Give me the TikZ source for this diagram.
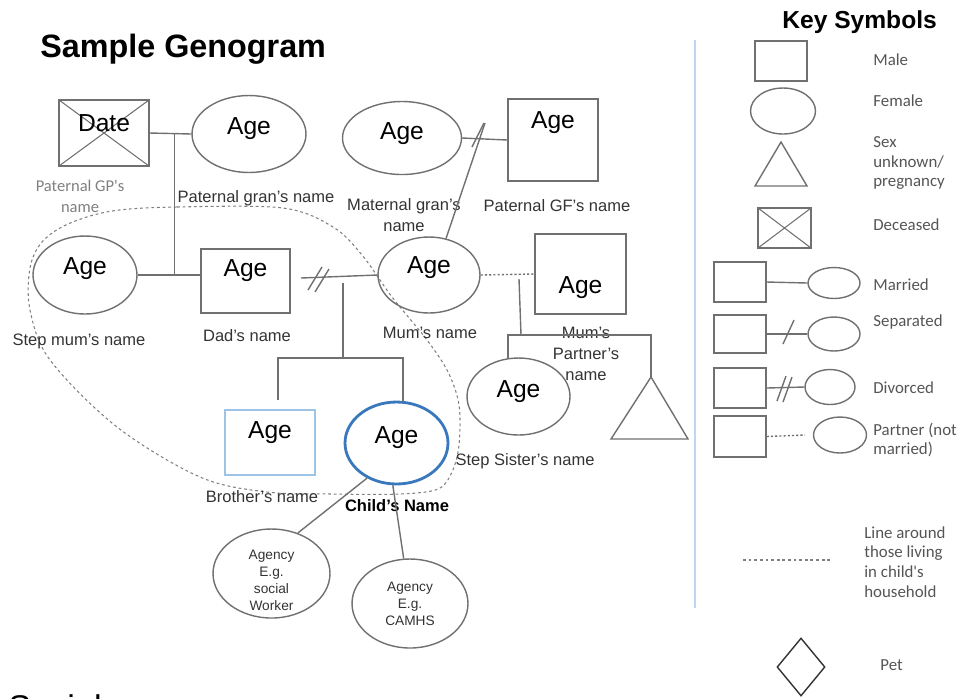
\documentclass[tikz,border=0pt]{standalone}
\usepackage{fontspec}
\setmainfont{Liberation Sans}
\newfontfamily\calfont{Carlito}
\usepackage{xcolor}
\usepackage{tikz}
\usetikzlibrary{shapes.geometric}
\usetikzlibrary{shapes}

\definecolor{linegray}{HTML}{707070}
\definecolor{txtgray}{HTML}{333333}
\definecolor{keygray}{HTML}{555555}
\definecolor{childblue}{HTML}{3A78BE}
\definecolor{brotherblue}{HTML}{9DC3E6}
\definecolor{dividerblue}{HTML}{BDD7EE}
\newcommand{\agefont}{\fontsize{14}{16}\selectfont}

\begin{document}
\begin{tikzpicture}[x=0.02cm, y=-0.02cm,
    person/.style={draw=linegray, line width=0.8pt, inner sep=0pt},
    male/.style={person, rectangle},
    female/.style={person, ellipse},
    age/.style={label={[font=\agefont, yshift=#1]center:Age}},
    age/.default=0pt,
    cross/.style={path picture={\draw[linegray, line width=0.6pt]
        (path picture bounding box.north west) -- (path picture bounding box.south east)
        (path picture bounding box.south west) -- (path picture bounding box.north east);}},
    agency/.style={font=\fontsize{7.8}{9.6}\selectfont, align=center, text=txtgray},
    rel/.style={draw=linegray, line width=0.8pt},
    partnerline/.style={draw=linegray, line width=0.8pt, dash pattern=on 1.2pt off 1.2pt},
    household/.style={draw=gray, line width=0.6pt, dash pattern=on 1.6pt off 1.6pt},
    nametext/.style={font=\fontsize{9.4}{11.8}\selectfont, text=txtgray, align=center, inner sep=0pt},
    keytext/.style={font=\calfont\fontsize{9.6}{11.3}\selectfont, text=keygray, anchor=west, align=left, inner sep=0pt}]
\useasboundingbox (0,0) rectangle (962,698);

% titles
\node[anchor=base west, inner sep=0pt, font=\bfseries\fontsize{18.4}{21}\selectfont] (title) at (40,57) {Sample Genogram};
\node[anchor=base west, inner sep=0pt, font=\bfseries\fontsize{14}{16}\selectfont] (keytitle) at (782,28) {Key Symbols};
\node[anchor=base west, inner sep=0pt, font=\fontsize{19.5}{22}\selectfont] (social) at (8,719) {Social};

% household
\draw[household] plot[smooth cycle, tension=0.55] coordinates {(112,211) (177,207) (283,208) (333,227)
    (362,255) (392,297) (427,340) (448,372) (459,405) (459,445) (452,472) (438,489) (400,494)
    (333,494) (267,492) (200,477) (117,427) (50,360) (30,310) (30,268) (42,242) (68,224)};

% grandparents
\node[male, cross, minimum width=18mm, minimum height=13.2mm,
    label={[font=\agefont, yshift=2mm]center:Date}] (pgf) at (104,133) {};
\node[female, minimum width=22.8mm, minimum height=15.4mm, age=1mm] (pgran) at (249,134) {};
\node[female, minimum width=23.8mm, minimum height=14.6mm, age=0.8mm] (mgran) at (402,138) {};
\node[male, minimum width=18mm, minimum height=16.4mm, age=3.4mm] (mgf) at (553,140) {};

% parents
\node[female, minimum width=20.8mm, minimum height=15.6mm, age=1.2mm] (stepmum) at (85,275) {};
\node[male, minimum width=17.8mm, minimum height=12.8mm, age=2mm] (dad) at (245.5,281) {};
\node[female, minimum width=20.4mm, minimum height=15.2mm, age=1.4mm] (mum) at (429,275) {};
\node[male, minimum width=18.2mm, minimum height=16mm, age=-2.8mm] (partner) at (580.5,274) {};

% children
\node[male, draw=brotherblue, line width=0.6pt, minimum width=18mm, minimum height=13mm, age=2mm] (bro) at (270,442.5) {};
\node[female, draw=childblue, line width=1.6pt, minimum width=20.6mm, minimum height=16.4mm, age=1mm] (child) at (396.5,443) {};
\node[female, minimum width=20.6mm, minimum height=15.4mm, age=0.9mm] (stepsis) at (518.5,396.5) {};
\coordinate (unborn) at (651,377);
\draw[rel] (unborn) -- ++(37,62) -- ++(-77,0) -- cycle;

% agencies
\node[female, minimum width=23.4mm, minimum height=17.8mm,
    label={[agency, yshift=-1.4mm]center:{Agency\\E.g.\\social\\Worker}}] (agency1) at (271.5,573.5) {};
\node[female, minimum width=23.2mm, minimum height=17.8mm,
    label={[agency]center:{Agency\\E.g.\\CAMHS}}] (agency2) at (410,603.5) {};

% names
\node[nametext, font=\calfont\fontsize{9.4}{11.8}\selectfont, text=gray] (pgfname) at (80,196) {Paternal GP's\\name};
\node[nametext] (pgranname) at (256,198) {Paternal gran's name};
\node[nametext] (mgranname) at (404,215) {Maternal gran's\\name};
\node[nametext] (mgfname) at (557,206) {Paternal GF's name};
\node[nametext] (stepmumname) at (79,341) {Step mum's name};
\node[nametext] (dadname) at (247,336) {Dad's name};
\node[nametext] (mumname) at (430,333) {Mum's name};
\node[nametext] (partnername) at (586,354) {Mum's\\Partner's\\name};
\node[nametext] (stepsisname) at (525,461) {Step Sister's name};
\node[nametext] (broname) at (262,497) {Brother's name};
\node[nametext, font=\bfseries\fontsize{9.4}{11.8}\selectfont, text=black] (childname) at (397,506) {Child's Name};

% relationships
\draw[rel] (pgf.east) -- coordinate[pos=0.6] (pjoin) (pgran.west);
\draw[rel] (pjoin) -- (pjoin |- stepmum.east);
\draw[rel] (stepmum.east) -- (stepmum.east -| dad.west);

\coordinate (dstart) at (301,278);
\draw[rel] (dstart) -- (mum.west);
\draw[rel] (308,290) -- (322,267) (315,292) -- (329,269);
\coordinate (dkids) at (343,283);
\draw[rel] (dkids) -- (343,358);
\draw[rel] (278,400) -- (278,358) -- (403,358) -- (403,402);

\draw[rel] (mgran.east) -- (mgf.west);
\draw[rel] (472,147) -- (484,123);
\coordinate (mjoin) at (485,123);
\draw[rel] (mum.65) -- (mjoin);

\draw[partnerline] (mum.east) -- (partner.west);
\coordinate (pkids) at (519,279);
\draw[rel] (pkids) -- (521,335);
\draw[rel] (508,359) -- (508,335) -- (651,335) -- (unborn);

\draw[rel] (child.230) -- (agency1.57);
\draw[rel] (child.265) -- (agency2.98);

% key
\draw[dividerblue, line width=1.3pt] (695,40) -- (695,608);

\node[male, minimum width=10.4mm, minimum height=8mm] (kmale) at (781,61) {};
\node[female, minimum width=13mm, minimum height=9.2mm] (kfemale) at (783,111) {};
\coordinate (ktri) at (781,142);
\draw[rel] (ktri) -- (807,186) -- (755,186) -- cycle;
\node[male, cross, minimum width=10.6mm, minimum height=8mm] (kdec) at (784.5,228) {};

\node[male, minimum width=10.4mm, minimum height=8mm] (kmm) at (740,282) {};
\node[female, minimum width=10.4mm, minimum height=6.2mm] (kmf) at (834,283) {};
\draw[rel] (kmm.east) -- (kmf.west);

\node[male, minimum width=10.4mm, minimum height=7.6mm] (ksm) at (740,334) {};
\node[female, minimum width=10.4mm, minimum height=6.8mm] (ksf) at (834,334) {};
\draw[rel] (ksm.east) -- (ksf.west);
\draw[rel] (783,344) -- (794,320);

\node[male, minimum width=10.4mm, minimum height=8mm] (kdm) at (740,388) {};
\node[female, minimum width=10mm, minimum height=7mm] (kdf) at (830,387) {};
\draw[rel] (kdm.east) -- (kdf.west);
\draw[rel] (777,401) -- (786,376) (783,402) -- (792,377);

\node[male, minimum width=10.4mm, minimum height=8.2mm] (kpm) at (740,436.5) {};
\node[female, minimum width=10.6mm, minimum height=7.2mm] (kpf) at (840,435) {};
\coordinate (kpend) at (805,435);
\draw[partnerline] (kpm.east) -- (kpend);

\draw[household] (743,560) -- (832,560);
\node[diamond, draw=black!80, line width=0.8pt, inner sep=0pt, minimum width=9.6mm, minimum height=11.6mm] (kpet) at (801,667) {};

\node[keytext] (kmaletxt) at (873,60) {Male};
\node[keytext] (kfemaletxt) at (873,101) {Female};
\node[keytext] (ktritxt) at (873,163) {Sex\\unknown/\\pregnancy};
\node[keytext] (kdectxt) at (873,225) {Deceased};
\node[keytext] (kmtxt) at (873,285) {Married};
\node[keytext] (kstxt) at (873,322) {Separated};
\node[keytext] (kdtxt) at (873,388) {Divorced};
\node[keytext] (kptxt) at (873,440) {Partner (not\\married)};
\node[keytext] (khtxt) at (864,562) {Line around\\those living\\in child's\\household};
\node[keytext] (kpettxt) at (880,665) {Pet};
\end{tikzpicture}
\end{document}
